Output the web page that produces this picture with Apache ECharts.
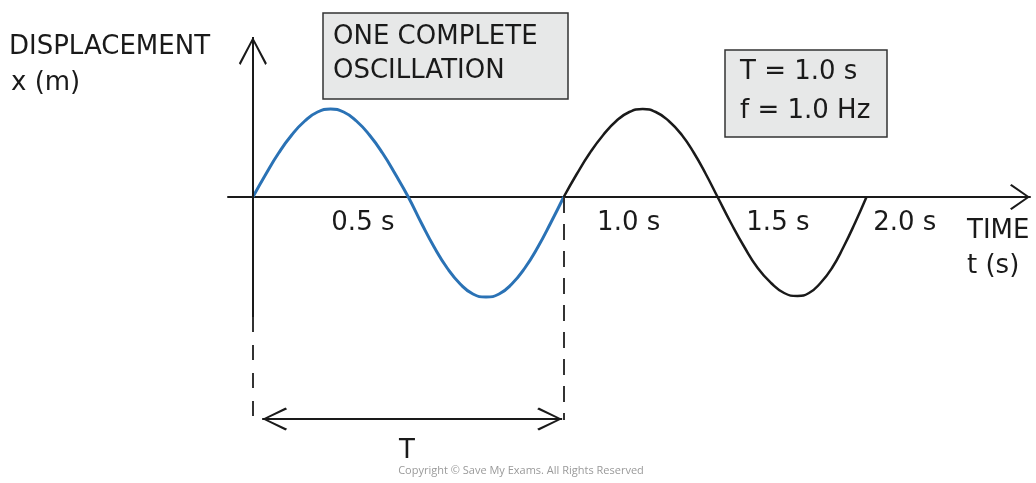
<!DOCTYPE html>
<html>
<head>
<meta charset="utf-8">
<title>One complete oscillation</title>
<script src="https://cdn.jsdelivr.net/npm/echarts@6/dist/echarts.min.js"></script>
<style>
  html, body { margin: 0; padding: 0; background: #fff; }
  #chart { width: 1036px; height: 483px; }
</style>
</head>
<body>
<div id="chart"></div>
<script>
// first oscillation (blue), time in s, displacement
const cycleOneTimes = [0, 0.042, 0.083, 0.125, 0.167, 0.208, 0.25, 0.292, 0.333, 0.375, 0.417, 0.458, 0.5,
  0.542, 0.583, 0.625, 0.667, 0.708, 0.75, 0.792, 0.833, 0.875, 0.917, 0.958, 1.0]
const cycleOneValues = [0, 0.23, 0.44, 0.62, 0.76, 0.85, 0.88, 0.85, 0.76, 0.62, 0.44, 0.23, 0,
  -0.26, -0.5, -0.71, -0.87, -0.97, -1.0, -0.97, -0.87, -0.71, -0.5, -0.26, 0]
// second oscillation (black), drawn a little short of 2.0 s
const cycleTwoTimes = [1.0, 1.042, 1.084, 1.127, 1.169, 1.211, 1.254, 1.296, 1.338, 1.38, 1.419, 1.457, 1.495,
  1.538, 1.581, 1.624, 1.667, 1.709, 1.752, 1.789, 1.826, 1.863, 1.9, 1.937, 1.974]
const cycleTwoValues = [0, 0.23, 0.44, 0.62, 0.76, 0.85, 0.88, 0.85, 0.76, 0.62, 0.44, 0.23, 0,
  -0.26, -0.5, -0.71, -0.86, -0.96, -0.99, -0.96, -0.86, -0.71, -0.5, -0.26, 0]

// time labels, written beside the crossings rather than under them
const tickTimes = [0.354, 1.209, 1.689, 2.097]
const tickLabels = ['0.5 s', '1.0 s', '1.5 s', '2.0 s']
const tickLevel = -0.26

// period marker under the first oscillation
const periodFrom = 0.03
const periodTo = 0.995
const periodLevel = -2.22
const periodLabel = 'T'
const periodLabelTime = 0.496
const periodLabelLevel = -2.54

const axisBottom = -1.2
const axisTop = 1.6
const dashBottom = -2.25

const ink = '#1a1a1a'
const blue = '#2a72b5'
const font = 'DejaVu Sans'

// open arrow heads, drawn pointing up (echarts turns them along the line)
const arrowX = 'path://M13,0 L26,18.5 L24.5,20 L13,3.2 L1.5,20 L0,18.5 Z'
const arrowY = 'path://M14,0 L28,26.2 L26.4,28 L14,4 L1.6,28 L0,26.2 Z'
const arrowT = 'path://M11.5,0 L23,23.3 L21.3,25 L11.5,4 L1.7,25 L0,23.3 Z'

function pairs (xs, ys) {
  return xs.map((x, i) => [x, ys[i]])
}

function txt (text, x, y, size, extra) {
  return {
    type: 'text',
    x: x,
    y: y,
    silent: true,
    style: Object.assign({
      text: text,
      fontSize: size,
      fontFamily: font,
      fill: ink,
      align: 'left',
      textAlign: 'left',
      verticalAlign: 'middle',
      textVerticalAlign: 'middle'
    }, extra || {})
  }
}

const labelData = tickTimes.map((t, i) => ({ value: [t, tickLevel], name: tickLabels[i] }))
labelData.push({ value: [periodLabelTime, periodLabelLevel], name: periodLabel })

const myChart = echarts.init(document.getElementById('chart'))
const option = {
  animation: false,
  grid: { left: 228, right: 6, top: 37, bottom: 26, outerBoundsMode: 'none' },
  xAxis: {
    type: 'value',
    min: -0.08,
    max: 2.5,
    axisLine: {
      onZero: true,
      symbol: ['none', arrowX],
      symbolSize: [26, 20],
      symbolOffset: [0, -10],
      lineStyle: { color: ink, width: 2 }
    },
    axisTick: { show: false },
    axisLabel: { show: false },
    splitLine: { show: false }
  },
  yAxis: {
    type: 'value',
    min: -2.6,
    max: 1.6,
    axisLine: { show: false },
    axisTick: { show: false },
    axisLabel: { show: false },
    splitLine: { show: false }
  },
  graphic: {
    elements: [
      txt('DISPLACEMENT', 9, 47, 26),
      txt('x (m)', 11, 83, 26),
      txt('TIME', 967, 231, 26),
      txt('t (s)', 967, 266, 26),
      {
        type: 'rect',
        shape: { x: 323, y: 13, width: 245, height: 86 },
        style: { fill: '#e7e8e8', stroke: '#333', lineWidth: 1.5 }
      },
      txt('ONE COMPLETE', 333, 37, 26),
      txt('OSCILLATION', 333, 71, 26),
      {
        type: 'rect',
        shape: { x: 725, y: 50, width: 162, height: 87 },
        style: { fill: '#e7e8e8', stroke: '#333', lineWidth: 1.5 }
      },
      txt('T = 1.0 s', 740, 72, 26),
      txt('f = 1.0 Hz', 740, 111, 26),
      txt('Copyright © Save My Exams. All Rights Reserved', 521, 471, 11, {
        fontFamily: 'Open Sans', fill: '#9a9a9a', align: 'center', textAlign: 'center'
      })
    ]
  },
  series: [
    {
      name: 'guides',
      type: 'line',
      data: [],
      silent: true,
      markLine: {
        silent: true,
        symbol: 'none',
        label: { show: false },
        lineStyle: { color: ink, width: 2, type: 'solid' },
        data: [
          // displacement axis
          [
            { coord: [0, axisBottom], symbol: 'none' },
            { coord: [0, axisTop], symbol: arrowY, symbolSize: [28, 28], symbolOffset: [0, '50%'] }
          ],
          // dashed drop lines
          [
            { coord: [0, axisBottom], symbol: 'none', lineStyle: { color: '#333', width: 2, type: [15, 13] } },
            { coord: [0, dashBottom], symbol: 'none' }
          ],
          [
            { coord: [periodTo + 0.005, 0], symbol: 'none', lineStyle: { color: '#333', width: 2, type: [16, 11] } },
            { coord: [periodTo + 0.005, dashBottom + 0.02], symbol: 'none' }
          ],
          // double arrow for T
          [
            { coord: [periodFrom, periodLevel], symbol: arrowT, symbolSize: [23, 25], symbolOffset: [0, '50%'] },
            { coord: [periodTo, periodLevel], symbol: arrowT, symbolSize: [23, 25], symbolOffset: [0, '50%'] }
          ]
        ]
      }
    },
    {
      name: 'second',
      type: 'line',
      data: pairs(cycleTwoTimes, cycleTwoValues),
      smooth: 0.5,
      showSymbol: false,
      silent: true,
      lineStyle: { color: ink, width: 2.5 },
      z: 3
    },
    {
      name: 'first',
      type: 'line',
      data: pairs(cycleOneTimes, cycleOneValues),
      smooth: 0.5,
      showSymbol: false,
      silent: true,
      lineStyle: { color: blue, width: 3 },
      z: 4
    },
    {
      name: 'labels',
      type: 'scatter',
      data: labelData,
      symbolSize: 0,
      silent: true,
      itemStyle: { opacity: 1 },
      label: {
        show: true,
        position: 'inside',
        formatter: '{b}',
        fontSize: 26,
        fontFamily: font,
        color: ink,
        opacity: 1
      }
    }
  ]
}
myChart.setOption(option, true)
</script>
</body>
</html>
